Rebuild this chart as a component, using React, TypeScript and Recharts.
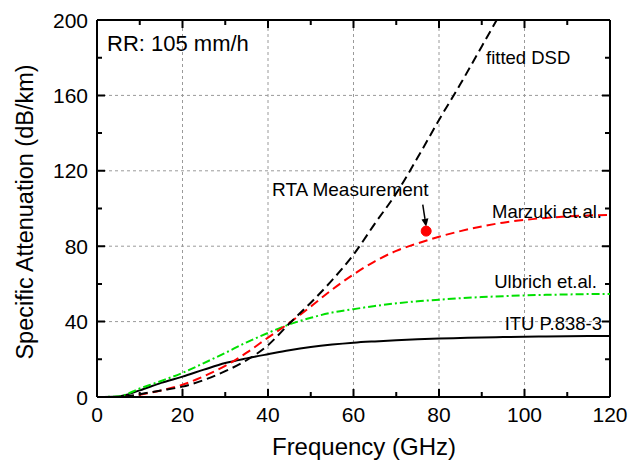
import { LineChart, Line, XAxis, YAxis, ReferenceLine, ReferenceDot } from "recharts";

// frequency grid (GHz)
const FREQ = [0, 5, 10, 15, 20, 25, 30, 35, 40, 45, 50, 55, 60, 65, 70, 75, 80, 85, 90, 95, 100, 105, 110, 115, 120];

// specific attenuation (dB/km)
const ITU = [0, 0.3, 3.5, 7.5, 10.8, 14.5, 18, 20.5, 22.7, 24.8, 26.5, 27.8, 28.8, 29.5, 30.1, 30.6, 31, 31.3, 31.6, 31.8, 32, 32.1, 32.2, 32.3, 32.4];
const ULBRICH = [0, 0.3, 4.5, 8.5, 12.8, 18, 23.4, 29, 34, 38.5, 42, 44.8, 46.6, 48.3, 49.7, 50.8, 51.6, 52.4, 53, 53.5, 53.9, 54.2, 54.4, 54.6, 54.7];
const MARZUKI = [0, 0, 1.2, 3.5, 6.5, 11, 16.5, 23.5, 31.5, 39.3, 48, 57, 65, 72, 77.5, 81.5, 85, 88, 90.5, 92.5, 94, 95, 95.8, 96.3, 96.6];
const FITTED_DSD = [0, 0, 1.5, 3.5, 5.5, 9, 13.7, 19.5, 27.5, 39, 50, 62, 75.5, 92, 108, 127, 147, 166, 186, 206, null, null, null, null, null];

// RTA measurement point
const MEAS_FREQ = 77;
const MEAS_ATT = 88;

const X_TICKS = [0, 10, 20, 30, 40, 50, 60, 70, 80, 90, 100, 110, 120];
const Y_TICKS = [0, 20, 40, 60, 80, 100, 120, 140, 160, 180, 200];
const X_GRID = [20, 40, 60, 80, 100];
const Y_GRID = [40, 80, 120, 160];
const X_MIN = 0;
const X_MAX = 120;
const Y_MIN = 0;
const Y_MAX = 200;

const FONT = '"Liberation Sans", Arial, Helvetica, sans-serif';
const MAJOR_LEN = 8;
const MINOR_LEN = 5;

const data = FREQ.map((f, i) => ({
  f,
  itu: ITU[i],
  ulbrich: ULBRICH[i],
  marzuki: MARZUKI[i],
  dsd: FITTED_DSD[i],
}));

function BottomTick({ x, y, payload }: any) {
  if (payload.value % 20 !== 0) return null;
  return (
    <text x={x} y={y + 25} textAnchor="middle" fontSize={21} fontFamily={FONT} fill="#000">
      {payload.value}
    </text>
  );
}

function LeftTick({ x, y, payload }: any) {
  if (payload.value % 40 !== 0) return null;
  return (
    <text x={x - 9} y={y} dy="0.36em" textAnchor="end" fontSize={21} fontFamily={FONT} fill="#000">
      {payload.value}
    </text>
  );
}

// a full-span segment from the library scales; only its two ends are drawn,
// pointing inward, which gives the tick marks on opposite sides of the frame
function EndTicks({ x1, y1, x2, y2, len }: any) {
  const dx = x2 - x1;
  const dy = y2 - y1;
  const d = Math.sqrt(dx * dx + dy * dy) || 1;
  const ux = (dx / d) * len;
  const uy = (dy / d) * len;
  return (
    <path
      d={`M${x1},${y1}L${x1 + ux},${y1 + uy}M${x2},${y2}L${x2 - ux},${y2 - uy}`}
      stroke="#000"
      strokeWidth={2}
      fill="none"
    />
  );
}

function Arrow({ x1, y1, x2, y2 }: any) {
  const dx = x2 - x1;
  const dy = y2 - y1;
  const len = Math.sqrt(dx * dx + dy * dy) || 1;
  const ux = dx / len;
  const uy = dy / len;
  const hl = 8;
  const hw = 3.5;
  const bx = x2 - ux * hl;
  const by = y2 - uy * hl;
  return (
    <g>
      <line x1={x1} y1={y1} x2={bx} y2={by} stroke="#000" strokeWidth={1.5} />
      <polygon
        points={`${x2},${y2} ${bx - uy * hw},${by + ux * hw} ${bx + uy * hw},${by - ux * hw}`}
        fill="#000"
      />
    </g>
  );
}

const annStyle = { fontFamily: FONT, fill: "#000" };
const axisLine = { stroke: "#000", strokeWidth: 2 };

export default function App() {
  return (
    <div style={{ position: "absolute", left: 0, top: 0, width: 628, height: 463, background: "#fff" }}>
      <LineChart
        width={628}
        height={463}
        data={data}
        margin={{ top: 20, right: 18, bottom: 0, left: 0 }}
      >
        <XAxis
          dataKey="f"
          type="number"
          domain={[X_MIN, X_MAX]}
          ticks={X_TICKS}
          interval={0}
          height={66}
          tickSize={0}
          tickMargin={0}
          tickLine={false}
          tick={<BottomTick />}
          axisLine={axisLine}
        />
        <YAxis
          type="number"
          domain={[Y_MIN, Y_MAX]}
          allowDataOverflow
          ticks={Y_TICKS}
          interval={0}
          width={97}
          tickSize={0}
          tickMargin={0}
          tickLine={false}
          tick={<LeftTick />}
          axisLine={axisLine}
        />
        {X_GRID.map((v) => (
          <ReferenceLine key={"gx" + v} x={v} stroke="#9a9a9a" strokeDasharray="3 3" strokeWidth={1} />
        ))}
        {Y_GRID.map((v) => (
          <ReferenceLine key={"gy" + v} y={v} stroke="#9a9a9a" strokeDasharray="3 3" strokeWidth={1} />
        ))}
        {/* frame: top and right edges */}
        <ReferenceLine y={Y_MAX} stroke="#000" strokeWidth={2} ifOverflow="visible" />
        <ReferenceLine x={X_MAX} stroke="#000" strokeWidth={2} ifOverflow="visible" />
        {/* inward tick marks, bottom+top and left+right */}
        {X_TICKS.map((v) => (
          <ReferenceLine
            key={"tx" + v}
            segment={[
              { x: v, y: Y_MIN },
              { x: v, y: Y_MAX },
            ]}
            ifOverflow="visible"
            shape={(p: any) => <EndTicks {...p} len={v % 20 === 0 ? MAJOR_LEN : MINOR_LEN} />}
          />
        ))}
        {Y_TICKS.map((v) => (
          <ReferenceLine
            key={"ty" + v}
            segment={[
              { x: X_MIN, y: v },
              { x: X_MAX, y: v },
            ]}
            ifOverflow="visible"
            shape={(p: any) => <EndTicks {...p} len={v % 40 === 0 ? MAJOR_LEN : MINOR_LEN} />}
          />
        ))}
        <Line
          dataKey="itu"
          type="monotone"
          stroke="#000"
          strokeWidth={2}
          dot={false}
          isAnimationActive={false}
        />
        <Line
          dataKey="ulbrich"
          type="monotone"
          stroke="#00e000"
          strokeWidth={2}
          strokeDasharray="8 3 2 3"
          dot={false}
          isAnimationActive={false}
        />
        <Line
          dataKey="marzuki"
          type="monotone"
          stroke="#ff0000"
          strokeWidth={2}
          strokeDasharray="9 5"
          dot={false}
          isAnimationActive={false}
        />
        <Line
          dataKey="dsd"
          type="monotone"
          stroke="#000"
          strokeWidth={2}
          strokeDasharray="9 5"
          dot={false}
          connectNulls={false}
          isAnimationActive={false}
        />
        <ReferenceLine
          segment={[
            { x: 76.2, y: 102 },
            { x: 77, y: 90.3 },
          ]}
          shape={(p: any) => <Arrow {...p} />}
        />
        <ReferenceDot x={MEAS_FREQ} y={MEAS_ATT} r={5} fill="#ff0000" stroke="#ff0000" />
      </LineChart>
      <svg
        width={628}
        height={463}
        style={{ position: "absolute", left: 0, top: 0, pointerEvents: "none" }}
      >
        <text x={107} y={51} fontSize={22} {...annStyle}>RR: 105 mm/h</text>
        <text x={486} y={64} fontSize={18.5} {...annStyle}>fitted DSD</text>
        <text x={272} y={196} fontSize={19} {...annStyle}>RTA Measurement</text>
        <text x={602} y={218} fontSize={18.5} textAnchor="end" {...annStyle}>Marzuki et.al.</text>
        <text x={597} y={288} fontSize={18.5} textAnchor="end" {...annStyle}>Ulbrich et.al.</text>
        <text x={602} y={330} fontSize={18.5} textAnchor="end" {...annStyle}>ITU P.838-3</text>
        <text x={364} y={455} fontSize={24} textAnchor="middle" {...annStyle}>Frequency (GHz)</text>
        <text
          x={33}
          y={212}
          fontSize={23.5}
          textAnchor="middle"
          transform="rotate(-90 33 212)"
          {...annStyle}
        >
          Specific Attenuation (dB/km)
        </text>
      </svg>
    </div>
  );
}
